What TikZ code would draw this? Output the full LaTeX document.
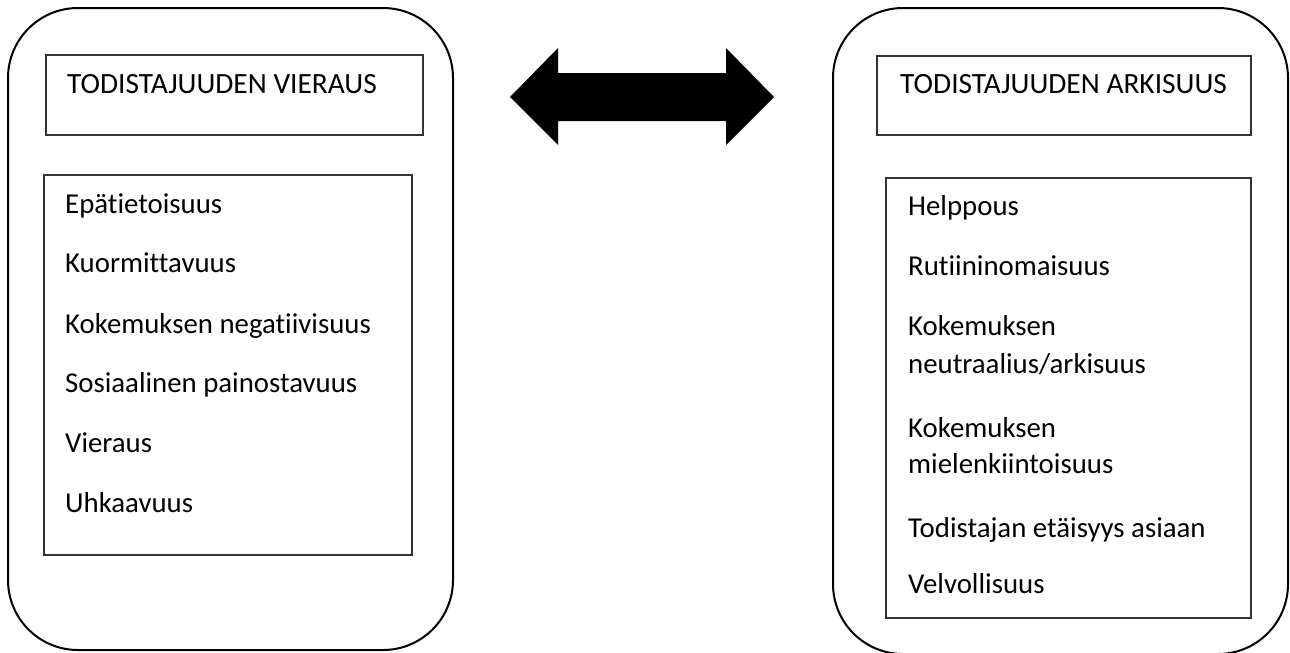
\documentclass[tikz,border=0pt]{standalone}
\usepackage{fontspec}
\setmainfont{Carlito}[Ligatures={NoCommon}]
\begin{document}
\begin{tikzpicture}[x=1pt,y=-1pt,
  outerbox/.style={draw=black,line width=2pt,rounded corners=70pt,minimum width=#1,inner sep=0pt},
  innerbox/.style={draw=black!80,line width=1.2pt,inner sep=0pt},
  lbl/.style={anchor=base west,inner sep=0pt,font=\fontsize{28.8}{35}\selectfont},
  ttl/.style={lbl,font=\fontsize{29.4}{35}\selectfont},
  bigarrow/.style={fill=black,draw=none}]
\useasboundingbox (0,0) rectangle (1290,653);
% outer rounded boxes
\node[outerbox=445pt,minimum height=642pt] (outL) at (230.5,329) {};
\node[outerbox=455pt,minimum height=646pt] (outR) at (1060.5,331) {};
% title boxes
\node[innerbox,minimum width=377pt,minimum height=80pt] (titL) at (234.5,95) {};
\node[innerbox,minimum width=374pt,minimum height=79pt] (titR) at (1064,95.5) {};
% list boxes
\node[innerbox,minimum width=368pt,minimum height=380pt] (lstL) at (228,365) {};
\node[innerbox,minimum width=365pt,minimum height=440pt] (lstR) at (1068.5,398) {};
% titles
\node[ttl] (tL) at (67,93) {TODISTAJUUDEN VIERAUS};
\node[ttl] (tR) at (900,93) {TODISTAJUUDEN ARKISUUS};
% left items
\node[lbl] (l1) at (65,213) {Epätietoisuus};
\node[lbl] (l2) at (65,272) {Kuormittavuus};
\node[lbl] (l3) at (65,333) {Kokemuksen negatiivisuus};
\node[lbl] (l4) at (65,392) {Sosiaalinen painostavuus};
\node[lbl] (l5) at (65,452) {Vieraus};
\node[lbl] (l6) at (65,512) {Uhkaavuus};
% right items
\node[lbl] (r1) at (908,215) {Helppous};
\node[lbl] (r2) at (908,275) {Rutiininomaisuus};
\node[lbl] (r3a) at (908,335) {Kokemuksen};
\node[lbl] (r3b) at (908,373) {neutraalius/arkisuus};
\node[lbl] (r4a) at (908,437) {Kokemuksen};
\node[lbl] (r4b) at (908,473) {mielenkiintoisuus};
\node[lbl] (r5) at (908,537) {Todistajan etäisyys asiaan};
\node[lbl] (r6) at (908,593) {Velvollisuus};
% double arrow
\fill[bigarrow] (510,97) -- (558,48) -- (558,73) -- (726,73) -- (726,48) -- (774,97)
  -- (726,145) -- (726,121) -- (558,121) -- (558,145) -- cycle;
\end{tikzpicture}
\end{document}
